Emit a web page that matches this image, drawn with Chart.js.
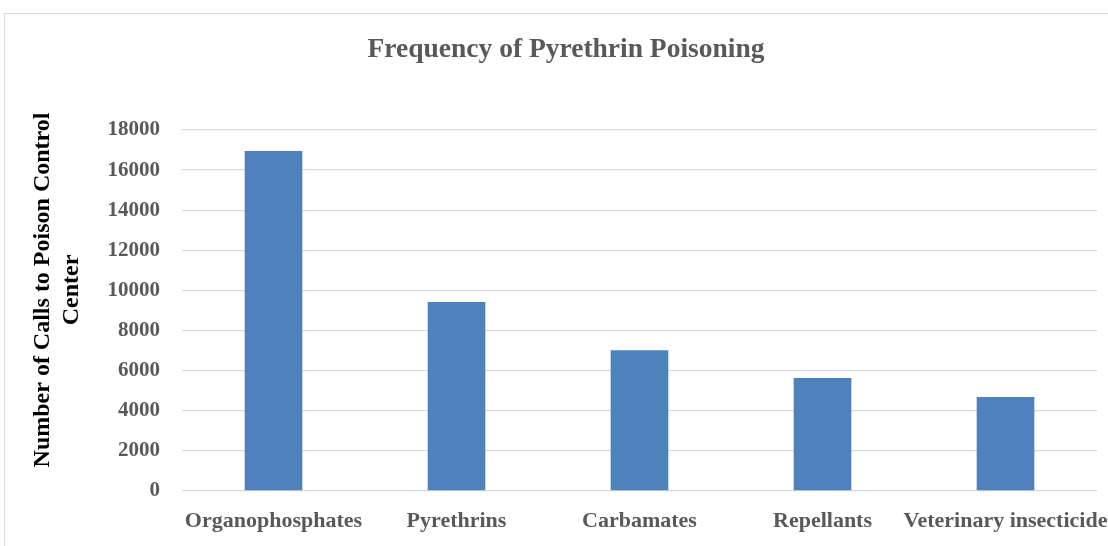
<!DOCTYPE html>
<html>
<head>
<meta charset="utf-8">
<script src="https://cdn.jsdelivr.net/npm/chart.js@4.4.1/dist/chart.umd.min.js"></script>
<style>
  html, body { margin: 0; padding: 0; background: #ffffff; overflow: hidden; }
  #wrap { position: relative; width: 1108px; height: 546px; }
  #frame { position: absolute; left: 4px; top: 13px; width: 1200px; height: 600px; border: 1px solid #d9d9d9; box-sizing: border-box; }
  canvas { position: absolute; left: 0; top: 0; }
</style>
</head>
<body>
<div id="wrap">
  <div id="frame"></div>
  <canvas id="c" width="1108" height="546"></canvas>
</div>
<script>
const chartTitle = "Frequency of Pyrethrin Poisoning";
const yAxisTitle = ["Number of Calls to Poison Control", "Center"];
const categories = ["Organophosphates", "Pyrethrins", "Carbamates", "Repellants", "Veterinary insecticide"];
const calls = [16950, 9420, 7020, 5630, 4690];
const yTicks = [0, 2000, 4000, 6000, 8000, 10000, 12000, 14000, 16000, 18000];

const serif = "'Liberation Serif', 'Times New Roman', serif";

const textPlugin = {
  id: 'textPlugin',
  afterDraw(chart) {
    const ctx = chart.ctx;
    ctx.save();
    // chart title
    ctx.font = "bold 27.5px " + serif;
    ctx.fillStyle = "#595959";
    ctx.textAlign = "center";
    ctx.textBaseline = "alphabetic";
    ctx.fillText(chartTitle, 566, 57);
    // y axis title
    ctx.font = "bold 24px " + serif;
    ctx.fillStyle = "#000000";
    ctx.textBaseline = "middle";
    const cy = 290;
    const xs = [43, 72];
    yAxisTitle.forEach((line, i) => {
      ctx.save();
      ctx.translate(xs[i], cy);
      ctx.rotate(-Math.PI / 2);
      ctx.fillText(line, 0, 0);
      ctx.restore();
    });
    ctx.restore();
  }
};

new Chart(document.getElementById('c'), {
  type: 'bar',
  data: {
    labels: categories,
    datasets: [{
      data: calls,
      backgroundColor: '#4F81BD',
      borderWidth: 0,
      categoryPercentage: 1.0,
      barPercentage: 0.315
    }]
  },
  options: {
    responsive: false,
    animation: false,
    layout: { padding: { left: 0, right: 11, top: 130, bottom: 0 } },
    plugins: {
      legend: { display: false },
      tooltip: { enabled: false },
      title: { display: false }
    },
    scales: {
      x: {
        grid: { display: false, drawTicks: false },
        border: { display: false },
        ticks: {
          color: '#595959',
          font: { family: serif, size: 22, weight: 'bold' },
          padding: 17,
          maxRotation: 0,
          autoSkip: false
        },
        afterFit(scale) { scale.height = 55; scale.paddingLeft = 0; scale.paddingRight = 0; }
      },
      y: {
        min: 0,
        max: 18000,
        afterBuildTicks(scale) { scale.ticks = yTicks.map(v => ({ value: v })); },
        grid: { color: '#d9d9d9', lineWidth: 1.3, drawTicks: false },
        border: { display: false },
        ticks: {
          color: '#595959',
          font: { family: serif, size: 21, weight: 'bold' },
          padding: 22,
          callback: (v) => String(v)
        },
        afterFit(scale) { scale.width = 182; scale.paddingTop = 0; scale.paddingBottom = 0; }
      }
    }
  },
  plugins: [textPlugin]
});
</script>
</body>
</html>
